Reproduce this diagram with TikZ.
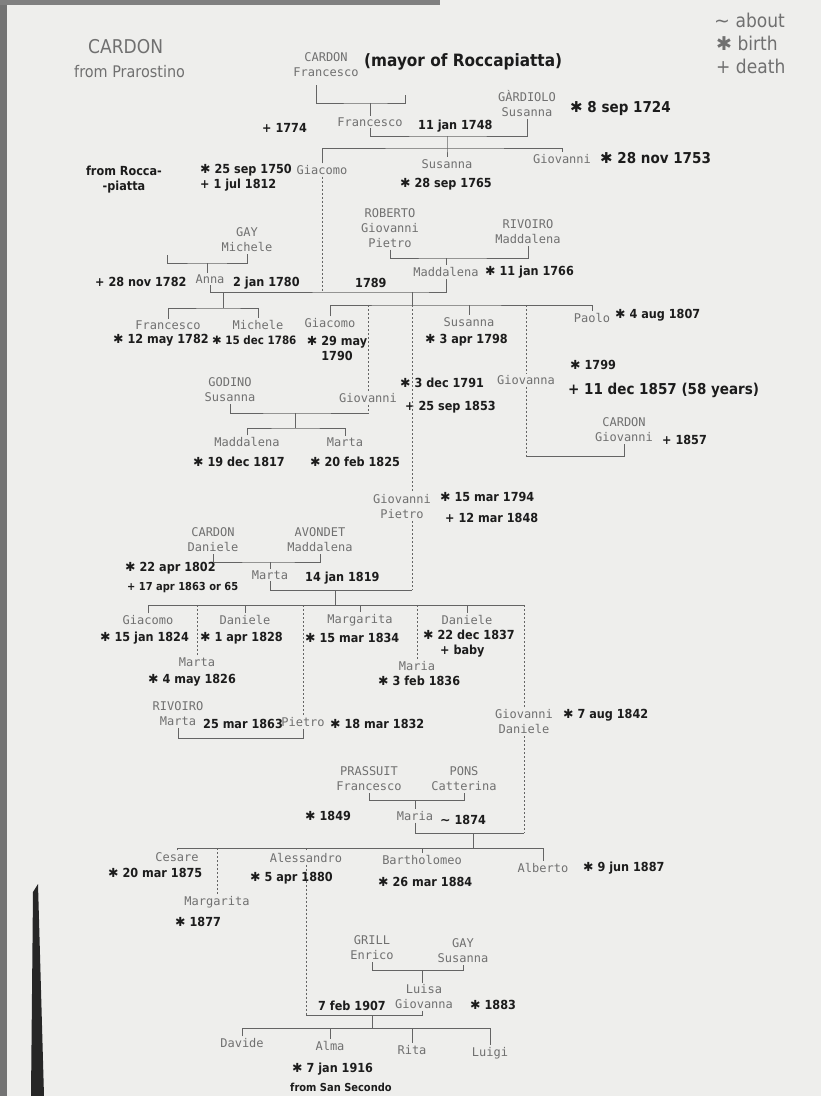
\documentclass[tikz,border=0pt]{standalone}
\usepackage{fontspec}
\setmonofont{DejaVu Sans Mono}
\newfontfamily\handfam[FakeStretch=0.9]{DejaVu Sans}
\newfontfamily\symfam{DejaVu Sans}
\newcommand\nmfont{\fontsize{12}{15}\selectfont\ttfamily}
\newcommand\hwfont{\handfam\bfseries\fontsize{12.5}{15}\selectfont}
\newcommand\ttlfont{\handfam\mdseries\fontsize{19}{21}\selectfont}
\newcommand\ttlsmall{\handfam\mdseries\fontsize{16}{18}\selectfont}
\newcommand\bt{{\symfam\mdseries ✱}}
\definecolor{paper}{RGB}{238,238,236}
\definecolor{ink}{RGB}{28,28,28}
\definecolor{tgray}{RGB}{112,112,112}
\definecolor{lgray}{RGB}{100,100,100}
\tikzset{
	nm/.style={font=\nmfont,text=tgray,align=center,inner sep=1pt,outer sep=1pt},
	hw/.style={font=\hwfont,text=ink,anchor=west,inner sep=0pt,align=left},
	big/.style={font=\handfam\bfseries\fontsize{15}{18}\selectfont},
	ln/.style={draw=lgray,line width=0.8pt},
	dl/.style={ln,dash pattern=on 2.2pt off 1.8pt},
}
\begin{document}
\begin{tikzpicture}[x=1pt,y=-1pt]
	\useasboundingbox (0,0) rectangle (821,1096);
	\clip (0,0) rectangle (821,1096);
	\fill[paper] (0,0) rectangle (821,1096);
	\fill[black!55] (0,0) rectangle (7,1096);
	\fill[black!50] (0,0) rectangle (440,5);
	\fill[black!85] (33,892) -- (38,884) -- (44,1096) -- (31,1096) -- cycle;
	\node[hw,font=\ttlfont,text=tgray] (ttl1) at (88,47) {CARDON};
	\node[hw,font=\ttlsmall,text=tgray] (ttl2) at (74,72) {from Prarostino};
	\node[hw,font=\ttlfont,text=tgray] (lg1) at (714,20) {{\symfam∼} about};
	\node[hw,font=\ttlfont,text=tgray] (lg2) at (716,43) {\bt\ birth};
	\node[hw,font=\ttlfont,text=tgray] (lg3) at (716,66) {+ death};
	\node[nm] (cf) at (326,65) {CARDON\\Francesco};
	\node[hw,font=\handfam\bfseries\fontsize{17}{20}\selectfont] (mayor) at (364,62) {(mayor of Roccapiatta)};
	\node[nm] (fr2) at (370,122) {Francesco};
	\node[nm] (gs) at (527,104) {GÀRDIOLO\\Susanna};
	\node[nm] (gi2) at (322,170) {Giacomo};
	\node[nm] (su2) at (447,164) {Susanna};
	\node[nm] (gv2) at (562,159) {Giovanni};
	\node[hw] (h1) at (262,128) {+ 1774};
	\node[hw] (h2) at (418,126) {11 jan 1748};
	\node[hw,big] (h3) at (570,108) {\bt\ 8 sep 1724};
	\node[hw,anchor=center,align=center] (h4) at (124,180) {from Rocca-\\-piatta};
	\node[hw] (h5) at (200,178) {\bt\ 25 sep 1750\\+ 1 jul 1812};
	\node[hw] (h6) at (400,184) {\bt\ 28 sep 1765};
	\node[hw,big] (h7) at (600,158) {\bt\ 28 nov 1753};
	\node[nm] (gm) at (247,240) {GAY\\Michele};
	\node[nm] (an) at (210,279) {Anna};
	\node[nm] (rg) at (390,228) {ROBERTO\\Giovanni\\Pietro};
	\node[nm] (rm) at (528,232) {RIVOIRO\\Maddalena};
	\node[nm] (md) at (446,272) {Maddalena};
	\node[hw] (h8) at (95,282) {+ 28 nov 1782};
	\node[hw] (h9) at (233,283) {2 jan 1780};
	\node[hw] (h10) at (355,283) {1789};
	\node[hw] (h11) at (485,272) {\bt\ 11 jan 1766};
	\node[nm] (fr3) at (168,325) {Francesco};
	\node[nm] (mi3) at (258,325) {Michele};
	\node[nm] (gi3) at (330,323) {Giacomo};
	\node[nm] (su3) at (469,322) {Susanna};
	\node[nm] (pa) at (592,318) {Paolo};
	\node[hw] (h12) at (113,340) {\bt\ 12 may 1782};
	\node[hw,font=\handfam\bfseries\fontsize{11.5}{14}\selectfont] (h13) at (212,340) {\bt\ 15 dec 1786};
	\node[hw,anchor=center,align=center] (h14) at (337,348) {\bt\ 29 may\\1790};
	\node[hw] (h15) at (425,340) {\bt\ 3 apr 1798};
	\node[hw] (h16) at (615,315) {\bt\ 4 aug 1807};
	\node[nm] (gv3) at (368,398) {Giovanni};
	\node[nm] (ga) at (526,380) {Giovanna};
	\node[nm] (cg) at (624,430) {CARDON\\Giovanni};
	\node[hw] (h17) at (400,383) {\bt\ 3 dec 1791};
	\node[hw] (h18) at (405,407) {+ 25 sep 1853};
	\node[hw] (h19) at (570,365) {\bt\ 1799};
	\node[hw,big] (h20) at (568,390) {+ 11 dec 1857 (58 years)};
	\node[hw] (h21) at (662,440) {+ 1857};
	\node[nm] (gsu) at (230,390) {GODINO\\Susanna};
	\node[nm] (ma4) at (247,442) {Maddalena};
	\node[nm] (mt4) at (345,442) {Marta};
	\node[hw] (h22) at (193,462) {\bt\ 19 dec 1817};
	\node[hw] (h23) at (310,462) {\bt\ 20 feb 1825};
	\node[nm] (gp) at (402,507) {Giovanni\\Pietro};
	\node[hw] (h24) at (440,497) {\bt\ 15 mar 1794};
	\node[hw] (h25) at (445,518) {+ 12 mar 1848};
	\node[nm] (cd) at (213,540) {CARDON\\Daniele};
	\node[nm] (av) at (320,540) {AVONDET\\Maddalena};
	\node[nm] (mt5) at (270,575) {Marta};
	\node[hw] (h26) at (125,568) {\bt\ 22 apr 1802};
	\node[hw,font=\handfam\bfseries\fontsize{11}{13}\selectfont] (h27) at (127,588) {+ 17 apr 1863 or 65};
	\node[hw] (h28) at (305,578) {14 jan 1819};
	\node[nm] (gc5) at (148,620) {Giacomo};
	\node[nm] (da5) at (245,620) {Daniele};
	\node[nm] (mg5) at (360,620) {Margarita};
	\node[nm] (dn5) at (467,620) {Daniele};
	\node[nm] (mt5b) at (197,662) {Marta};
	\node[nm] (mr5) at (417,666) {Maria};
	\node[nm] (pi5) at (303,722) {Pietro};
	\node[nm] (rmt) at (178,714) {RIVOIRO\\Marta};
	\node[nm] (gd5) at (524,722) {Giovanni\\Daniele};
	\node[hw] (h29) at (100,638) {\bt\ 15 jan 1824};
	\node[hw] (h30) at (200,638) {\bt\ 1 apr 1828};
	\node[hw] (h31) at (305,638) {\bt\ 15 mar 1834};
	\node[hw] (h32) at (423,635) {\bt\ 22 dec 1837};
	\node[hw] (h33) at (440,651) {+ baby};
	\node[hw] (h34) at (148,680) {\bt\ 4 may 1826};
	\node[hw] (h35) at (378,681) {\bt\ 3 feb 1836};
	\node[hw] (h36) at (203,724) {25 mar 1863};
	\node[hw] (h37) at (330,724) {\bt\ 18 mar 1832};
	\node[hw] (h38) at (563,715) {\bt\ 7 aug 1842};
	\node[nm] (pf) at (369,779) {PRASSUIT\\Francesco};
	\node[nm] (pc) at (464,779) {PONS\\Catterina};
	\node[nm] (mr6) at (415,816) {Maria};
	\node[hw] (h39) at (305,816) {\bt\ 1849};
	\node[hw] (h40) at (440,820) {{\symfam∼} 1874};
	\node[nm] (ce) at (177,857) {Cesare};
	\node[nm] (mg6) at (217,902) {Margarita};
	\node[nm] (al) at (306,858) {Alessandro};
	\node[nm] (ba) at (422,860) {Bartholomeo};
	\node[nm] (ab) at (543,868) {Alberto};
	\node[hw] (h41) at (108,873) {\bt\ 20 mar 1875};
	\node[hw] (h42) at (175,922) {\bt\ 1877};
	\node[hw] (h43) at (250,878) {\bt\ 5 apr 1880};
	\node[hw] (h44) at (378,882) {\bt\ 26 mar 1884};
	\node[hw] (h45) at (583,868) {\bt\ 9 jun 1887};
	\node[nm] (ge) at (372,948) {GRILL\\Enrico};
	\node[nm] (gys) at (463,951) {GAY\\Susanna};
	\node[nm] (lg) at (424,997) {Luisa\\Giovanna};
	\node[hw] (h46) at (318,1006) {7 feb 1907};
	\node[hw] (h47) at (470,1005) {\bt\ 1883};
	\node[nm] (dv) at (242,1043) {Davide};
	\node[nm] (alm) at (330,1046) {Alma};
	\node[nm] (ri) at (412,1050) {Rita};
	\node[nm] (lu) at (490,1053) {Luigi};
	\node[hw] (h48) at (292,1069) {\bt\ 7 jan 1916};
	\node[hw,font=\handfam\bfseries\fontsize{11}{13}\selectfont] (h49) at (290,1087) {from San Secondo};
	\coordinate (j1) at (370,103);
	\coordinate (q1) at (405,95);
	\coordinate (j2) at (447,136);
	\coordinate (k2) at (447,148);
	\coordinate (q2) at (167,255);
	\coordinate (j5) at (207,263);
	\coordinate (j6) at (446,258);
	\coordinate (j3) at (412,292);
	\coordinate (k3) at (412,305);
	\coordinate (j4) at (223,292);
	\coordinate (k4) at (223,308);
	\coordinate (j7) at (526,456);
	\coordinate (j8) at (295,413);
	\coordinate (k8) at (295,428);
	\coordinate (j10) at (270,562);
	\coordinate (j9) at (335,590);
	\coordinate (k9) at (335,605);
	\coordinate (j11) at (303,738);
	\coordinate (j13) at (415,800);
	\coordinate (j12) at (473,833);
	\coordinate (k12) at (473,848);
	\coordinate (j15) at (422,970);
	\coordinate (j14) at (372,1015);
	\coordinate (k14) at (372,1028);
	\draw[ln] ([xshift=-10pt,yshift=-6pt]cf.south) |- (j1) -| (q1);
	\draw[ln] (j1) -- (fr2.north);
	\draw[ln] (fr2.south) |- (j2) -| (gs.south);
	\draw[ln] (j2) -- (k2) -- (su2.north);
	\draw[ln] (gi2.north) |- (k2) -| (gv2.north);
	\draw[dl] (gi2.south) -- (gi2.south |- j3);
	\draw[ln] (q2) |- (j5) -| (gm.south);
	\draw[ln] (j5) -- (j5 |- an.north);
	\draw[ln] (rg.south) |- (j6) -| (rm.south);
	\draw[ln] (j6) -- (j6 |- md.north);
	\draw[ln] (an.south) |- (j3) -| (md.south);
	\draw[ln] (j4) -- (k4);
	\draw[ln] (fr3.north) |- (k4) -| (mi3.north);
	\draw[ln] (j3) -- (k3);
	\draw[ln] (gi3.north) |- (k3) -| (pa.north);
	\draw[ln] (su3.north |- k3) -- (su3.north);
	\draw[dl] (gv3.north |- k3) -- (gv3.north);
	\draw[dl] (k3) -- (k3 |- gp.north);
	\draw[dl] (ga.north |- k3) -- (ga.north);
	\draw[dl] (ga.south) -- (j7);
	\draw[ln] (j7) -| (cg.south);
	\draw[ln] (gsu.south) |- (j8) -- (j8 -| gv3);
	\draw[dl] (gv3.south) -- (j8 -| gv3);
	\draw[ln] (j8) -- (k8);
	\draw[ln] (ma4.north) |- (k8) -| (mt4.north);
	\draw[ln] (cd.south) |- (j10) -| (av.south);
	\draw[ln] (j10) -- (mt5.north);
	\draw[ln] (mt5.south) |- (j9) -- (j9 -| k3);
	\draw[dl] (k3 |- gp.south) -- (j9 -| k3);
	\draw[ln] (j9) -- (k9);
	\draw[ln] (gc5.north) |- (k9) -- (k9 -| gd5);
	\draw[dl] (k9 -| gd5) -- (gd5.north);
	\foreach \p in {da5,mg5,dn5} \draw[ln] (\p.north |- k9) -- (\p.north);
	\foreach \p in {mt5b,pi5,mr5} \draw[dl] (\p.north |- k9) -- (\p.north);
	\draw[ln] (rmt.south) |- (j11) -- (pi5.south);
	\draw[ln] (mr6.south) |- (j12) -- (j12 -| gd5);
	\draw[dl] (gd5.south) -- (j12 -| gd5);
	\draw[ln] (pf.south) |- (j13) -| (pc.south);
	\draw[ln] (j13) -- (mr6.north);
	\draw[ln] (j12) -- (k12);
	\draw[ln] (ce.north) |- (k12) -| (ab.north);
	\draw[ln] (ba.north |- k12) -- (ba.north);
	\foreach \p in {mg6,al} \draw[dl] (\p.north |- k12) -- (\p.north);
	\draw[ln] (ge.south) |- (j15) -| (gys.south);
	\draw[ln] (j15) -- (j15 |- lg.north);
	\draw[ln] (j15 |- lg.south) |- (j14) -- (j14 -| al);
	\draw[dl] (al.south) -- (j14 -| al);
	\draw[ln] (j14) -- (k14);
	\draw[ln] (dv.north) |- (k14) -| (lu.north);
	\foreach \p in {alm,ri} \draw[ln] (\p.north |- k14) -- (\p.north);
\end{tikzpicture}
\end{document}
